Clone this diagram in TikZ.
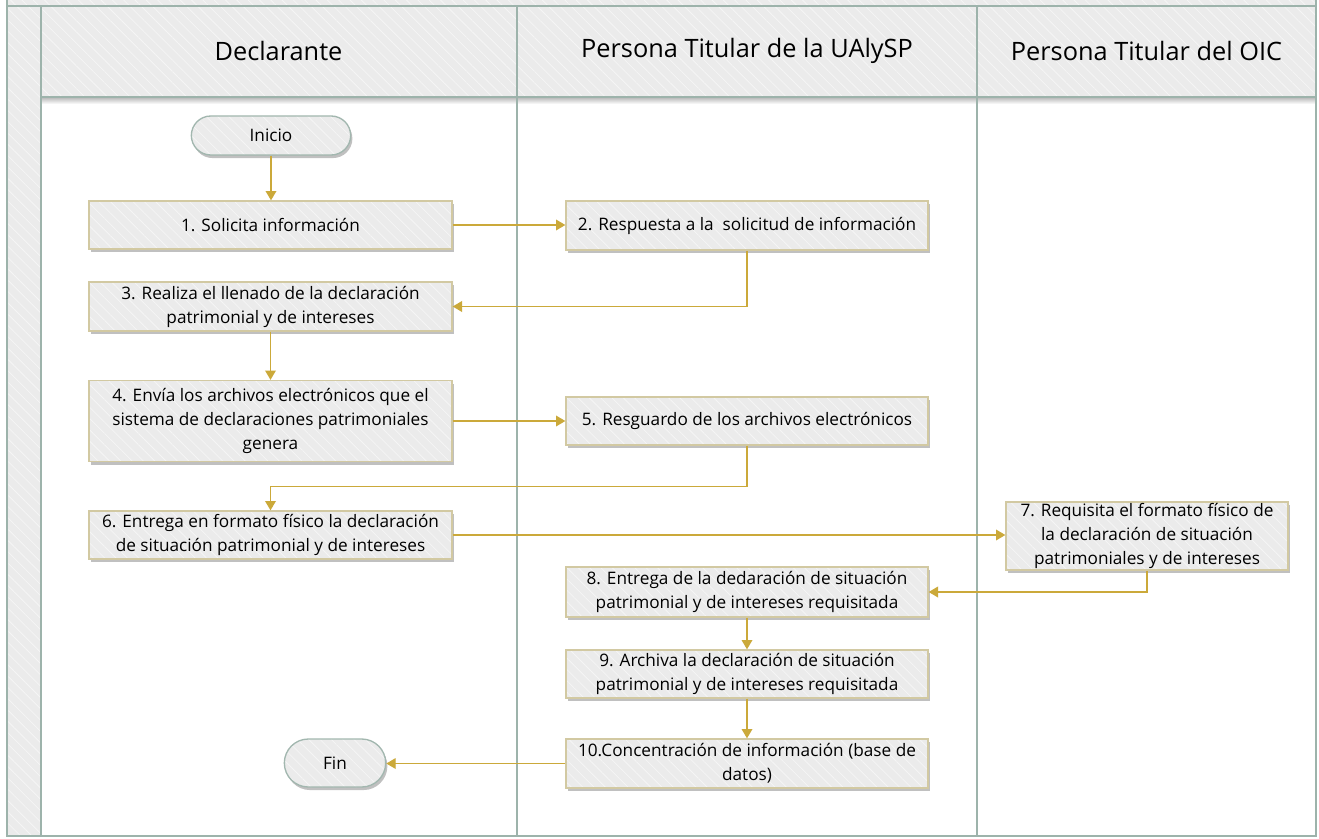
\documentclass[tikz,border=0pt]{standalone}
\usepackage{fontspec}
\setmainfont{Open Sans}
\usetikzlibrary{arrows.meta,shadows,patterns.meta,calc,shapes.misc}
\definecolor{lanegray}{HTML}{EBEBEB}
\definecolor{hatchc}{HTML}{F5F5F5}
\definecolor{laneline}{HTML}{9DB3AB}
\definecolor{boxborder}{HTML}{D2C9A2}
\definecolor{pillborder}{HTML}{A2B7AF}
\definecolor{arrowgold}{HTML}{CBA93A}
\def\px{0.75pt}
\begin{document}
\begin{tikzpicture}[x=0.75pt,y=-0.75pt,
  hatched/.style={preaction={fill=lanegray},
    pattern={Lines[angle=-45,distance=6pt,line width=0.6pt]}, pattern color=hatchc},
  lane/.style={draw=laneline, line width=1.5pt},
  lanehead/.style={font=\fontsize{19}{23}\selectfont, text=black},
  stepbox/.style={draw=boxborder, line width=1pt,
    drop shadow={shadow xshift=1.3pt, shadow yshift=-2.3pt, opacity=0.35, fill=black!70},
    preaction={fill=lanegray},
    pattern={Lines[angle=-45,distance=6pt,line width=0.6pt]}, pattern color=hatchc,
    align=center, inner sep=1pt, text=black,
    font=\fontsize{12.9}{18}\selectfont},
  pill/.style={rounded rectangle, draw=pillborder, line width=1pt,
    drop shadow={shadow xshift=1.3pt, shadow yshift=-2.3pt, opacity=0.35, fill=black!70},
    preaction={fill=lanegray},
    pattern={Lines[angle=-45,distance=6pt,line width=0.6pt]}, pattern color=hatchc,
    align=center, inner sep=1pt, text=black,
    font=\fontsize{12.9}{18}\selectfont},
  conn/.style={draw=arrowgold, line width=1pt, -{Triangle[width=8pt,length=7pt]}}
]
\useasboundingbox (0,0) rectangle (1319,838);
\fill[white] (0,0) rectangle (1319,838);
% pool frame
\path[hatched] (7,-4) rectangle (41,836);
\path[hatched] (7,-4) rectangle (1316,6);
\path[hatched] (41,6) rectangle (1316,97);
\shade[top color=black!25, bottom color=white] (41,98) rectangle (1316,104);
\draw[lane] (7,-4) -- (7,836) -- (1316,836) -- (1316,-4);
\draw[lane] (7,6) -- (1316,6);
\draw[lane] (41,6) -- (41,836);
\draw[lane] (41,97) -- (1316,97);
\draw[lane] (517,6) -- (517,836);
\draw[lane] (977,6) -- (977,836);
% lane headers
\node[lanehead] (h1) at (278.5,51) {Declarante};
\node[lanehead] (h2) at (747,51) {Persona Titular de la UAlySP};
\node[lanehead] (h3) at (1146.5,51) {Persona Titular del OIC};
% nodes
\node[pill, minimum width=162*\px, minimum height=39*\px] (ini) at (271,135.5) {Inicio};
\node[stepbox, minimum width=363*\px, minimum height=48*\px] (b1) at (270.5,225) {1. Solicita información};
\node[stepbox, minimum width=362*\px, minimum height=49*\px] (b2) at (747,225.5) {2. Respuesta a la\ \ solicitud de información};
\node[stepbox, minimum width=363*\px, minimum height=49*\px] (b3) at (270.5,306.5) {3. Realiza el llenado de la declaración\\patrimonial y de intereses};
\node[stepbox, minimum width=363*\px, minimum height=81*\px] (b4) at (270.5,421) {4. Envía los archivos electrónicos que el\\sistema de declaraciones patrimoniales\\genera};
\node[stepbox, minimum width=362*\px, minimum height=48*\px] (b5) at (747,421) {5. Resguardo de los archivos electrónicos};
\node[stepbox, minimum width=363*\px, minimum height=48*\px] (b6) at (270.5,535) {6. Entrega en formato físico la declaración\\de situación patrimonial y de intereses};
\node[stepbox, minimum width=282*\px, minimum height=66*\px] (b7) at (1147,536) {7. Requisita el formato físico de\\la declaración de situación\\patrimoniales y de intereses};
\node[stepbox, minimum width=362*\px, minimum height=50*\px] (b8) at (747,592) {8. Entrega de la dedaración de situación\\patrimonial y de intereses requisitada};
\node[stepbox, minimum width=362*\px, minimum height=48*\px] (b9) at (747,674) {9. Archiva la declaración de situación\\patrimonial y de intereses requisitada};
\node[stepbox, minimum width=362*\px, minimum height=49*\px] (b10) at (747,763.5) {10.Concentración de información (base de\\datos)};
\node[pill, minimum width=104*\px, minimum height=48*\px] (fin) at (335,763) {Fin};
% connectors
\draw[conn] (ini.south) -- (ini.south |- b1.north);
\draw[conn] (b1.east) -- (b1.east -| b2.west);
\draw[conn] (b2.south) |- (b3.east);
\draw[conn] (b3.south) -- (b4.north);
\draw[conn] (b4.east) -- (b4.east -| b5.west);
\draw[conn] (b5.south) -- ++(0,41) -| (b6.north);
\draw[conn] (b6.east) -- (b6.east -| b7.west);
\draw[conn] (b7.south) |- (b8.east);
\draw[conn] (b8.south) -- (b9.north);
\draw[conn] (b9.south) -- (b10.north);
\draw[conn] (b10.west) -- (b10.west -| fin.east);
\end{tikzpicture}
\end{document}
